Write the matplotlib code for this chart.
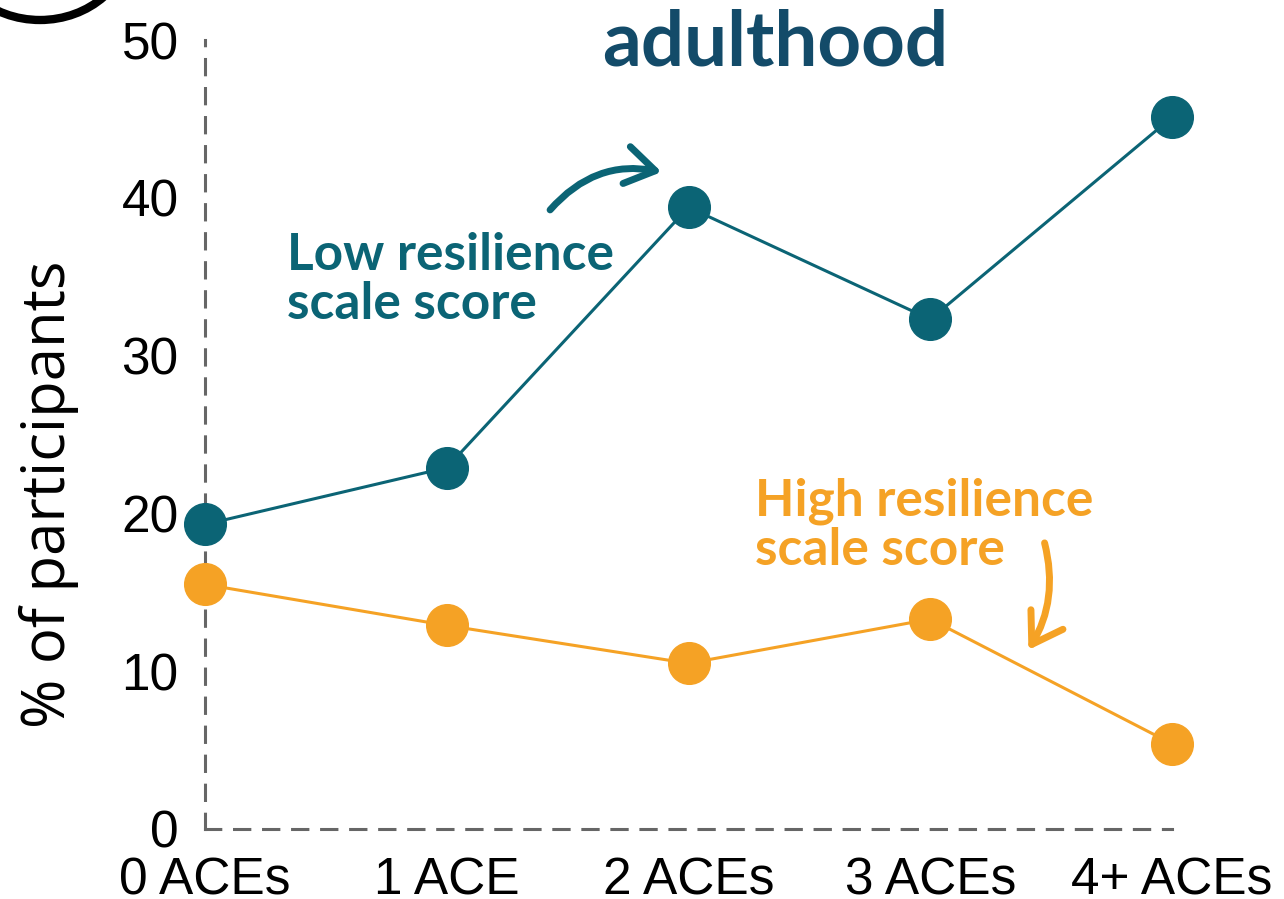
import matplotlib
matplotlib.use("Agg")
import matplotlib.pyplot as plt
from matplotlib.patches import FancyArrowPatch, Arc

categories = ["0 ACEs", "1 ACE", "2 ACEs", "3 ACEs", "4+ ACEs"]
low_resilience = [19.3, 22.9, 39.4, 32.3, 45.1]
high_resilience = [15.5, 12.9, 10.5, 13.3, 5.4]
yticks = [0, 10, 20, 30, 40, 50]

TEAL = "#0b6475"
ORANGE = "#f5a225"
NAVY = "#134b69"
GREY = "#666666"

plt.rcParams["font.family"] = ["Liberation Sans", "DejaVu Sans"]

fig = plt.figure(figsize=(12.84, 8.99), dpi=100)
ax = fig.add_axes([205 / 1284, 1 - 829 / 899, 967 / 1284, 789 / 899])

x = list(range(len(categories)))
ax.plot(x, low_resilience, color=TEAL, lw=2.2, marker="o", ms=30,
        clip_on=False, zorder=3)
ax.plot(x, high_resilience, color=ORANGE, lw=2.2, marker="o", ms=30,
        clip_on=False, zorder=3)

ax.set_xlim(0, 4)
ax.set_ylim(0, 50)
ax.set_xticks(x)
ax.set_xticklabels(categories)
ax.set_yticks(yticks)
ax.tick_params(length=0, labelsize=37, pad=20)
ax.tick_params(axis="y", pad=19)
ax.set_ylabel("% of participants", fontsize=43, family="Open Sans")
ax.yaxis.set_label_coords(-0.13, 0.424)

for side in ["top", "right"]:
    ax.spines[side].set_visible(False)
for side in ["left", "bottom"]:
    ax.spines[side].set_color(GREY)
    ax.spines[side].set_linewidth(2.2)
    ax.spines[side].set_linestyle((0, (5, 4.5)))

# title fragment (cut off at top)
fig.text(775 / 1284, 1 - 66 / 899, "adulthood", family="Lato", weight="bold",
         fontsize=55, color=NAVY, ha="center", va="baseline")

# series labels
ax.text(0.34, 34.8, "Low resilience\nscale score", family="Lato", weight="bold",
        fontsize=37, color=TEAL, ha="left", va="center", linespacing=1.05)
ax.text(2.275, 19.2, "High resilience\nscale score", family="Lato", weight="bold",
        fontsize=37, color=ORANGE, ha="left", va="center", linespacing=1.05)

ax.add_patch(FancyArrowPatch((1.42, 39.1), (1.90, 41.6),
                             connectionstyle="arc3,rad=-0.3",
                             arrowstyle="->,head_length=0.7,head_width=0.45",
                             mutation_scale=30, color=TEAL, lw=5,
                             clip_on=False))
ax.add_patch(FancyArrowPatch((3.47, 18.3), (3.40, 11.2),
                             connectionstyle="arc3,rad=-0.22",
                             arrowstyle="->,head_length=0.7,head_width=0.45",
                             mutation_scale=30, color=ORANGE, lw=5,
                             clip_on=False))

# black stroke cut off in the top-left corner
fig.add_artist(Arc((40 / 1284, 1 + 60 / 899), 181 / 1284, 160 / 899,
                   theta1=180, theta2=360, transform=fig.transFigure,
                   color="black", lw=6))

fig.savefig("out.png", dpi=100)
